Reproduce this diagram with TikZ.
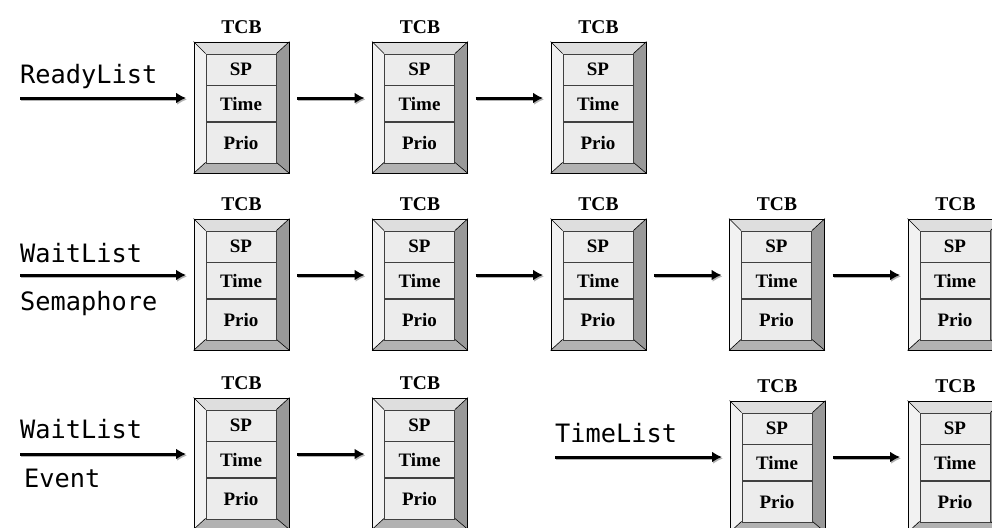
\documentclass[tikz,border=0pt]{standalone}
\usepackage{fontspec}
\setmainfont{Liberation Serif}
\newfontfamily\listfont{DejaVu Sans Mono}
\usetikzlibrary{calc, arrows.meta}

\definecolor{bevL}{gray}{0.95}
\definecolor{bevT}{gray}{0.87}
\definecolor{bevR}{gray}{0.60}
\definecolor{bevB}{gray}{0.70}
\definecolor{cellfill}{gray}{0.925}

\begin{document}
\begin{tikzpicture}[x=1pt,y=-1pt,
    frame/.style={draw,line width=0.8pt,minimum width=95pt,minimum height=131pt,inner sep=0pt},
    cell/.style={draw=black!75,line width=0.5pt,fill=cellfill,minimum width=70pt,inner sep=0pt,
      font=\fontsize{19}{19}\selectfont\bfseries},
    tcblabel/.style={font=\fontsize{19.5}{19.5}\selectfont\bfseries},
    listname/.style={anchor=base west,inner sep=0pt,font=\fontsize{25.3}{26}\selectfont\listfont},
    link/.style={line width=3pt,-{Latex[length=10pt,width=11pt]},shorten <=8pt,shorten >=8pt,
      preaction={draw=black!30,line width=3pt,-{Latex[length=10pt,width=11pt]},shorten <=8pt,shorten >=8pt,
        transform canvas={shift={(1pt,-1.5pt)}}}}]
  \useasboundingbox (0,0) rectangle (992,527);
  \clip (0,0) rectangle (992,527);

  % TCB blocchi
  \foreach \n/\x/\y in {a1/194/42, a2/372.5/42, a3/551/42,
      b1/194/219, b2/372.5/219, b3/551/219, b4/729.5/219, b5/908/219,
      c1/194/398, c2/372.5/398, d1/730/401, d2/908/401} {
    \fill[bevL] (\x,\y) -- (\x+12,\y+12) -- (\x+12,\y+120) -- (\x,\y+131) -- cycle;
    \fill[bevT] (\x,\y) -- (\x+95,\y) -- (\x+82,\y+12) -- (\x+12,\y+12) -- cycle;
    \fill[bevR] (\x+95,\y) -- (\x+95,\y+131) -- (\x+82,\y+120) -- (\x+82,\y+12) -- cycle;
    \fill[bevB] (\x,\y+131) -- (\x+12,\y+120) -- (\x+82,\y+120) -- (\x+95,\y+131) -- cycle;
    \node[frame] (\n) at (\x+47.5,\y+65.5) {};
    \draw[line width=0.6pt] (\n.north west) -- ++(12,12) (\n.north east) -- ++(-13,12)
      (\n.south west) -- ++(12,-11) (\n.south east) -- ++(-13,-11);
    \node[cell,minimum height=31pt] (\n-sp) at (\x+47,\y+27.5) {SP};
    \node[cell,minimum height=36pt,anchor=north] (\n-time) at (\n-sp.south) {Time};
    \node[cell,minimum height=41pt,anchor=north] (\n-prio) at (\n-time.south) {Prio};
    \node[tcblabel] (\n-tcb) at (\x+47.5,\y-15) {TCB};
    \coordinate (\n-in) at (\x,\y+56);
    \coordinate (\n-out) at (\x+95,\y+56);
  }

  % liste
  \node[listname] (ready) at (20,83) {ReadyList};
  \node[listname] (waitS) at (20,262) {WaitList};
  \node[listname] (sema) at (20,310) {Semaphore};
  \node[listname] (waitE) at (20,438) {WaitList};
  \node[listname] (event) at (24,487) {Event};
  \node[listname] (timel) at (555,442) {TimeList};

  \coordinate (readyS) at (12,98);
  \coordinate (semaS) at (12,275);
  \coordinate (eventS) at (12,454);
  \coordinate (timeS) at (547,457);

  % frecce
  \draw[link] (readyS) -- (a1-in);
  \draw[link] (a1-out) -- (a2-in);
  \draw[link] (a2-out) -- (a3-in);
  \draw[link] (semaS) -- (b1-in);
  \draw[link] (b1-out) -- (b2-in);
  \draw[link] (b2-out) -- (b3-in);
  \draw[link] (b3-out) -- (b4-in);
  \draw[link] (b4-out) -- (b5-in);
  \draw[link] (eventS) -- (c1-in);
  \draw[link] (c1-out) -- (c2-in);
  \draw[link] (timeS) -- (d1-in);
  \draw[link] (d1-out) -- (d2-in);
\end{tikzpicture}
\end{document}
